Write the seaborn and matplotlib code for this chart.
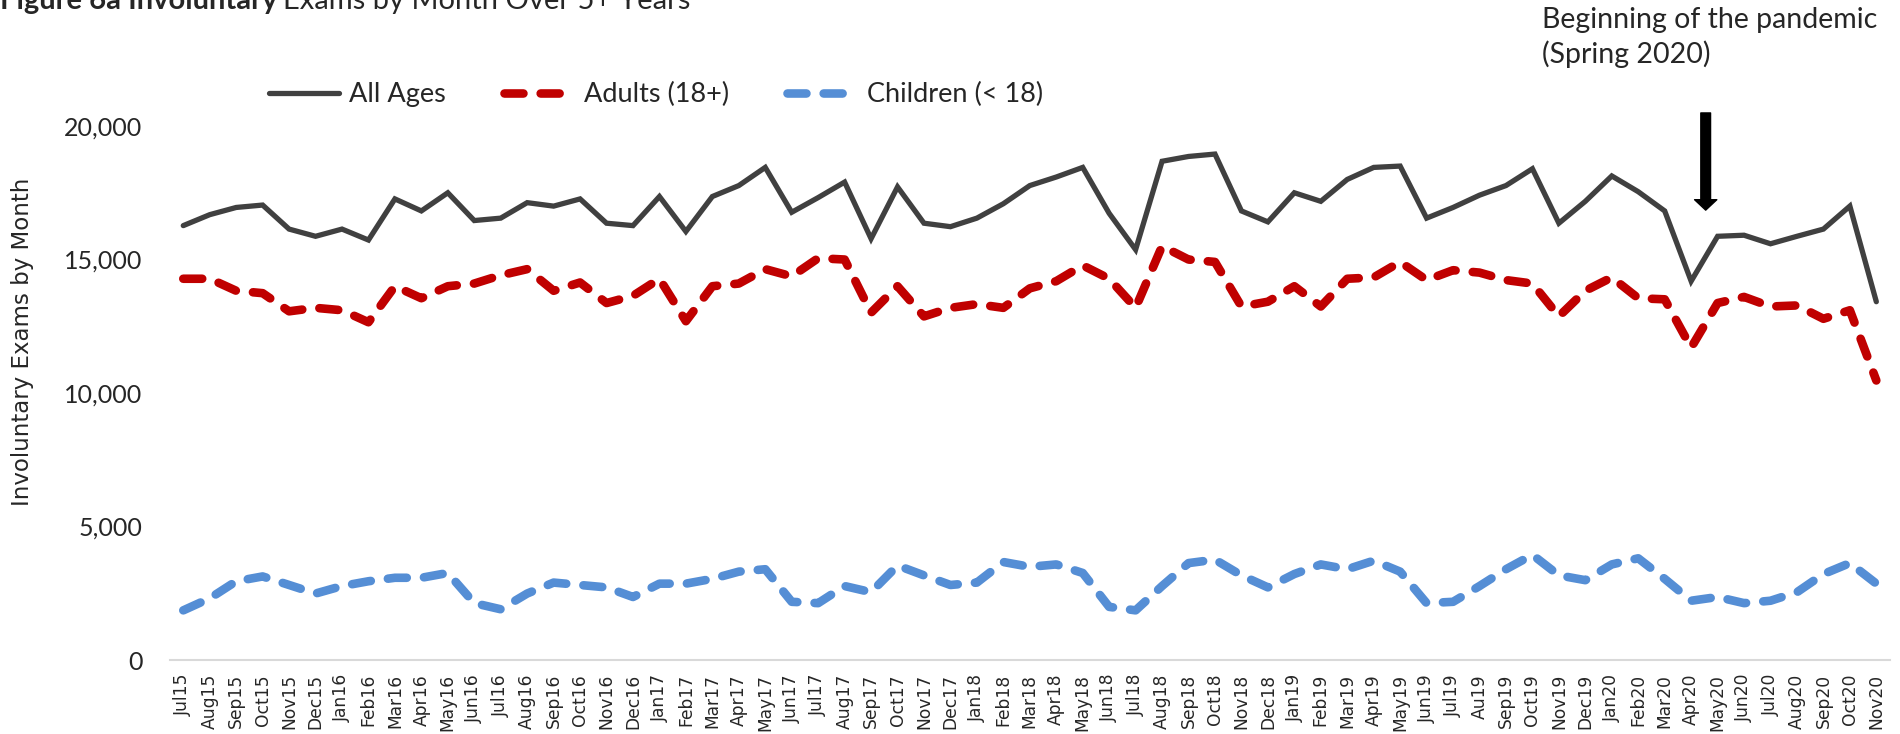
import numpy as np
import pandas as pd
import matplotlib
matplotlib.use("Agg")
import matplotlib.pyplot as plt
import seaborn as sns

months = ["Jul15", "Aug15", "Sep15", "Oct15", "Nov15", "Dec15",
          "Jan16", "Feb16", "Mar16", "Apr16", "May16", "Jun16", "Jul16", "Aug16", "Sep16", "Oct16", "Nov16", "Dec16",
          "Jan17", "Feb17", "Mar17", "Apr17", "May17", "Jun17", "Jul17", "Aug17", "Sep17", "Oct17", "Nov17", "Dec17",
          "Jan18", "Feb18", "Mar18", "Apr18", "May18", "Jun18", "Jul18", "Aug18", "Sep18", "Oct18", "Nov18", "Dec18",
          "Jan19", "Feb19", "Mar19", "Apr19", "May19", "Jun19", "Jul19", "Au19", "Sep19", "Oct19", "Nov19", "Dec19",
          "Jan20", "Feb20", "Mar20", "Apr20", "May20", "Jun20", "Jul20", "Aug20", "Sep20", "Oct20", "Nov20"]

all_ages = [16270, 16680, 16950, 17040, 16140, 15870,
            16140, 15730, 17270, 16820, 17500, 16460, 16550, 17130, 17000, 17270, 16360, 16270,
            17360, 16050, 17360, 17770, 18450, 16770, 17320, 17900, 15780, 17720, 16360, 16230,
            16550, 17090, 17770, 18090, 18450, 16730, 15370, 18680, 18860, 18950, 16820, 16410,
            17500, 17180, 18000, 18450, 18500, 16550, 16950, 17410, 17770, 18400, 16360, 17180,
            18130, 17540, 16820, 14190, 15870, 15910, 15590, 15870, 16140, 17000, 13420]

adults = [14280, 14280, 13830, 13740, 13060, 13190,
          13100, 12650, 14000, 13550, 14000, 14100, 14410, 14640, 13830, 14140, 13370, 13640,
          14280, 12690, 14000, 14100, 14640, 14370, 15050, 15000, 13010, 14000, 12870, 13190,
          13330, 13190, 13920, 14190, 14780, 14280, 13190, 15500, 15000, 14910, 13240, 13420,
          14000, 13240, 14280, 14330, 14910, 14230, 14600, 14510, 14230, 14100, 12870, 13830,
          14330, 13550, 13510, 11700, 13370, 13600, 13240, 13280, 12780, 13100, 10470]

children = [1860, 2310, 2950, 3130, 2810, 2490,
            2770, 2950, 3080, 3080, 3260, 2130, 1900, 2490, 2900, 2810, 2720, 2360,
            2860, 2860, 3040, 3310, 3400, 2180, 2130, 2770, 2540, 3540, 3170, 2810,
            2900, 3670, 3490, 3580, 3260, 1990, 1860, 2770, 3630, 3760, 3170, 2720,
            3220, 3580, 3400, 3720, 3310, 2130, 2180, 2770, 3400, 3940, 3170, 2990,
            3580, 3810, 3040, 2220, 2360, 2130, 2220, 2540, 3220, 3630, 2860]

series_names = ["All Ages", "Adults (18+)", "Children (< 18)"]
y_ticks = [0, 5000, 10000, 15000, 20000]

sns.set_theme(style="white")
plt.rcParams["font.family"] = ["Lato", "DejaVu Sans"]

fig = plt.figure(figsize=(19, 7.34), dpi=100)
ax = fig.add_axes([0.0895, 0.1008, 0.9050, 0.7275])

df = pd.DataFrame({"idx": np.arange(len(months)), "month": months,
                   series_names[0]: all_ages, series_names[1]: adults, series_names[2]: children})

sns.lineplot(data=df, x="idx", y=series_names[0], ax=ax, color="#404040", lw=3.8,
             sort=False, label=series_names[0], solid_joinstyle="miter")
sns.lineplot(data=df, x="idx", y=series_names[1], ax=ax, color="#C00000", lw=6.2,
             sort=False, label=series_names[1], linestyle=(0, (2.2, 2.0)), dash_capstyle="round")
sns.lineplot(data=df, x="idx", y=series_names[2], ax=ax, color="#558ED5", lw=6.2,
             sort=False, label=series_names[2], linestyle=(0, (2.2, 2.0)), dash_capstyle="round")

ax.set_xlim(-0.5, len(months) - 0.5)
ax.set_ylim(0, 20000)
ax.set_xticks(np.arange(len(months)))
ax.set_xticklabels(months, rotation=90, fontsize=12.3, family="DejaVu Sans")
ax.set_yticks(y_ticks)
ax.set_yticklabels([f"{v:,}" for v in y_ticks], fontsize=18)
ax.tick_params(axis="x", length=0, pad=10)
ax.tick_params(axis="y", length=0, pad=20)
ax.set_xlabel("")
ax.set_ylabel("")
for s in ["top", "right", "left"]:
    ax.spines[s].set_visible(False)
ax.spines["bottom"].set_color("#D9D9D9")
ax.spines["bottom"].set_linewidth(1.5)
ax.grid(False)

fig.text(0.0116, 0.534, "Involuntary Exams by Month", rotation=90, fontsize=16.5,
         family="DejaVu Sans", ha="center", va="center")

handles = ax.get_lines()[:3]
ax.legend(handles=handles, labels=series_names, ncol=3, frameon=False, fontsize=19.5,
          loc="center left", bbox_to_anchor=(0.1416, 0.871), bbox_transform=fig.transFigure,
          borderpad=0, borderaxespad=0, handlelength=2.6, handletextpad=0.35, columnspacing=2.15)

# title (partially clipped at the top, as in the reference)
title_y = 1 - 9 / 734
t1 = fig.text(0.0, title_y, "Figure 6a Involuntary", fontsize=21, fontweight="bold",
              ha="left", va="baseline")
fig.canvas.draw()
bb = t1.get_window_extent()
fig.text(bb.x1 / fig.bbox.width + 0.003, title_y, "Exams by Month Over 5+ Years", fontsize=21,
         ha="left", va="baseline")

# pandemic annotation
fig.text(0.8116, 1 - 28 / 734, "Beginning of the pandemic", fontsize=20.5,
         ha="left", va="baseline")
fig.text(0.8116, 1 - 63 / 734, "(Spring 2020)", fontsize=20.5,
         ha="left", va="baseline")
ax.annotate("", xy=(57.55, 16850), xytext=(57.55, 20490), annotation_clip=False,
            arrowprops=dict(facecolor="black", edgecolor="black", width=7, headwidth=16,
                            headlength=7.5, shrink=0))

fig.savefig("out.png", dpi=100)
